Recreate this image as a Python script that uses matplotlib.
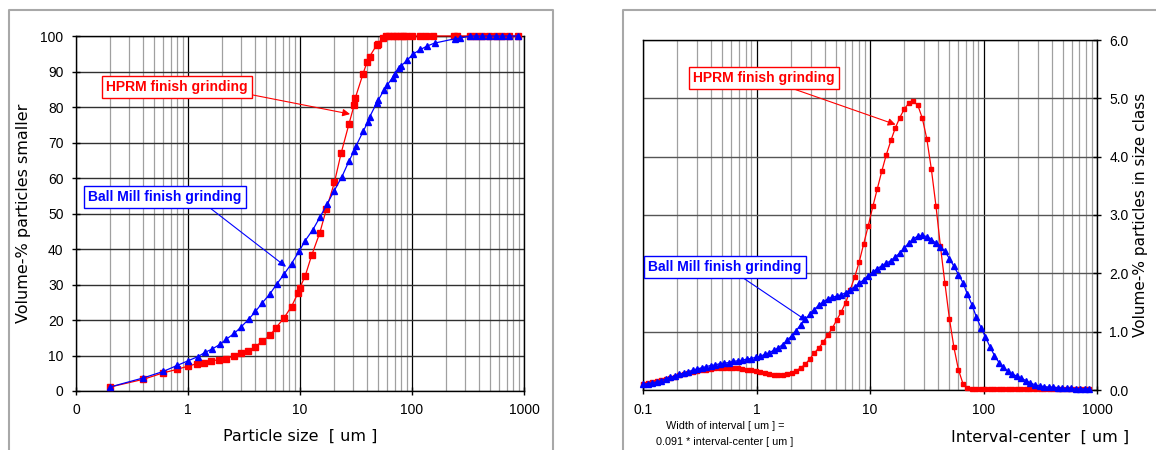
import numpy as np
import matplotlib.pyplot as plt
from matplotlib.ticker import LogLocator, NullFormatter, FixedLocator, FixedFormatter
from matplotlib.lines import Line2D

# -------------------------
# Data: cumulative curves (left chart)
# -------------------------
hprm_cum_x = [0.2, 0.4, 0.6, 0.8, 1.0, 1.2, 1.4, 1.6, 1.9, 2.2, 2.6, 2.95, 3.4, 4.0, 4.6,
              5.4, 6.1, 7.2, 8.4, 9.6, 9.9, 11.1, 12.7, 15.0, 17.2, 20.3, 23.3, 27.3,
              30.4, 31.2, 36.6, 39.8, 41.8, 48.5, 49.6, 55, 58, 62, 68, 72, 78, 83, 89,
              101, 117, 132, 154, 237, 254, 327, 370, 425, 487, 559, 640, 735, 889]
hprm_cum_y = [1.1, 3.3, 5.1, 6.1, 7.0, 7.7, 8.0, 8.5, 8.8, 9.1, 10.0, 10.7, 11.3, 12.5, 14.0,
              15.7, 17.8, 20.6, 23.8, 27.6, 28.9, 32.3, 38.2, 44.5, 51.2, 58.8, 67.0, 75.1,
              80.5, 82.6, 89.4, 92.8, 94.2, 97.5, 97.8, 99.5, 99.9, 100, 100, 100, 100, 100, 100,
              100, 100, 100, 100, 100, 100, 100, 100, 100, 100, 100, 100, 100, 100]

ball_cum_x = [0.2, 0.4, 0.6, 0.8, 1.0, 1.23, 1.42, 1.64, 1.92, 2.2, 2.58, 2.95, 3.5, 4.0, 4.6,
              5.4, 6.2, 7.2, 8.4, 9.8, 11.1, 13.0, 15.1, 17.4, 20.2, 23.7, 27.5, 30.5, 31.6,
              36.6, 40.2, 42.0, 48.5, 50, 56, 60, 67, 70, 76, 80, 90, 102, 119, 137, 159,
              240, 270, 327, 370, 425, 487, 559, 640, 735, 889]
ball_cum_y = [1.1, 3.7, 5.5, 7.2, 8.5, 9.7, 10.9, 11.8, 13.1, 14.6, 16.2, 17.9, 20.3, 22.4, 24.8,
              27.4, 30.1, 32.9, 35.9, 39.3, 42.3, 45.4, 49.0, 52.6, 56.4, 60.4, 64.9, 67.7, 69.0,
              73.1, 75.7, 77.3, 81.2, 81.9, 84.7, 86.1, 88.3, 89.4, 91.0, 91.6, 93.1, 94.9, 96.2,
              97.2, 98.0, 99.2, 99.4, 100, 100, 100, 100, 100, 100, 100, 100]

# -------------------------
# Data: frequency per size class (right chart)
# -------------------------
class_center = [
    0.100, 0.110, 0.120, 0.132, 0.144, 0.158, 0.173, 0.190, 0.208, 0.228,
    0.249, 0.273, 0.299, 0.328, 0.360, 0.394, 0.432, 0.473, 0.518, 0.568,
    0.622, 0.682, 0.747, 0.818, 0.897, 0.983, 1.08, 1.18, 1.29, 1.42,
    1.55, 1.70, 1.86, 2.04, 2.24, 2.45, 2.69, 2.94, 3.22, 3.53,
    3.87, 4.24, 4.65, 5.09, 5.58, 6.12, 6.70, 7.34, 8.04, 8.81,
    9.66, 10.6, 11.6, 12.7, 13.9, 15.3, 16.7, 18.3, 20.1, 22.0,
    24.1, 26.4, 28.9, 31.7, 34.7, 38.1, 41.7, 45.7, 50.1, 54.9,
    60.1, 65.9, 72.2, 79.1, 86.6, 94.9, 104, 114, 125, 137,
    150, 164, 180, 197, 216, 237, 259, 284, 312, 341,
    374, 410, 449, 492, 539, 591, 647, 709, 777, 852]

hprm_freq = [
    0.11, 0.12, 0.13, 0.15, 0.17, 0.19, 0.21, 0.23, 0.25, 0.27,
    0.29, 0.31, 0.32, 0.34, 0.35, 0.36, 0.37, 0.37, 0.38, 0.38,
    0.37, 0.37, 0.36, 0.35, 0.34, 0.33, 0.31, 0.29, 0.27, 0.26,
    0.26, 0.26, 0.27, 0.29, 0.33, 0.38, 0.44, 0.53, 0.63, 0.72,
    0.82, 0.94, 1.06, 1.20, 1.34, 1.50, 1.72, 1.94, 2.20, 2.51,
    2.82, 3.15, 3.45, 3.75, 4.03, 4.28, 4.49, 4.67, 4.82, 4.92,
    4.95, 4.88, 4.66, 4.30, 3.79, 3.16, 2.47, 1.83, 1.22, 0.73,
    0.35, 0.11, 0.03, 0.01, 0.01, 0.01, 0.01, 0.01, 0.01, 0.01,
    0.01, 0.01, 0.01, 0.01, 0.01, 0.01, 0.01, 0.01, 0.01, 0.01,
    0.01, 0.01, 0.01, 0.01, 0.01, 0.01, 0.01, 0.01, 0.01, 0.01]

ball_freq = [
    0.10, 0.11, 0.12, 0.14, 0.16, 0.19, 0.22, 0.24, 0.27, 0.29,
    0.31, 0.34, 0.36, 0.38, 0.40, 0.42, 0.43, 0.45, 0.46, 0.47,
    0.49, 0.50, 0.51, 0.53, 0.54, 0.56, 0.58, 0.61, 0.64, 0.68,
    0.72, 0.78, 0.85, 0.93, 1.02, 1.12, 1.21, 1.30, 1.38, 1.45,
    1.51, 1.56, 1.59, 1.61, 1.63, 1.67, 1.72, 1.77, 1.83, 1.89,
    1.96, 2.02, 2.08, 2.13, 2.17, 2.22, 2.28, 2.35, 2.44, 2.52,
    2.59, 2.64, 2.65, 2.63, 2.58, 2.52, 2.46, 2.38, 2.25, 2.12,
    1.98, 1.84, 1.64, 1.46, 1.25, 1.07, 0.91, 0.74, 0.59, 0.47,
    0.39, 0.32, 0.27, 0.24, 0.20, 0.16, 0.12, 0.09, 0.07, 0.06,
    0.05, 0.05, 0.04, 0.03, 0.03, 0.03, 0.02, 0.02, 0.02, 0.02]

x_ticks = [0.1, 1, 10, 100, 1000]
left_xlabels = ['0', '1', '10', '100', '1000']
right_xlabels = ['0.1', '1', '10', '100', '1000']

# -------------------------
# Figure / layout (pixel based)
# -------------------------
W, H = 1156, 450
fig = plt.figure(figsize=(W / 100, H / 100), dpi=100)

def px_box(x0, y0, x1, y1):
    return [x0 / W, 1 - y1 / H, (x1 - x0) / W, (y1 - y0) / H]

def fig_line(xs, ys):
    fig.add_artist(Line2D([x / W for x in xs], [1 - y / H for y in ys],
                          transform=fig.transFigure, color='#a8a8a8', lw=1.5))

# panel frames
fig_line([9, 9, 553, 553], [450, 10, 10, 450])
fig_line([623, 623, 1156], [450, 10, 10])

ax1 = fig.add_axes(px_box(76, 36, 524, 391))
ax2 = fig.add_axes(px_box(643, 40, 1097, 390))

tick_font = 'Liberation Sans'
label_font = 'DejaVu Sans'

def style_log_axis(ax, hcolor, xlabels):
    ax.set_xscale('log')
    ax.set_xlim(0.1, 1000)
    ax.xaxis.set_major_locator(FixedLocator(x_ticks))
    ax.xaxis.set_major_formatter(FixedFormatter(xlabels))
    ax.xaxis.set_minor_locator(LogLocator(base=10, subs=np.arange(2, 10)))
    ax.xaxis.set_minor_formatter(NullFormatter())
    ax.grid(which='major', axis='x', color='black', lw=0.9)
    ax.grid(which='minor', axis='x', color='#a0a0a0', lw=0.9)
    ax.grid(which='major', axis='y', color=hcolor, lw=1.0)
    ax.set_axisbelow(True)
    ax.tick_params(which='minor', length=0)
    ax.tick_params(which='major', direction='inout', length=6, width=1,
                   labelsize=10, pad=6)
    for lab in ax.get_xticklabels() + ax.get_yticklabels():
        lab.set_fontfamily(tick_font)
    for s in ax.spines.values():
        s.set_color('black')
        s.set_linewidth(1)

# -------------------------
# Left: cumulative distribution
# -------------------------
ax1.plot(hprm_cum_x, hprm_cum_y, '-s', color='#ff0000', ms=3.8, lw=0.9,
         zorder=3, clip_on=False)
ax1.plot(ball_cum_x, ball_cum_y, '-^', color='#0000ff', ms=4.5, lw=0.9,
         zorder=4, clip_on=False)
ax1.set_ylim(0, 100)
ax1.set_yticks(np.arange(0, 101, 10))
style_log_axis(ax1, '#303030', left_xlabels)
ax1.set_xlabel('Particle size  [ um ]', fontsize=11.5, family=label_font, labelpad=8)
ax1.set_ylabel('Volume-% particles smaller', fontsize=11.5, family=label_font, labelpad=7)

# -------------------------
# Right: frequency distribution
# -------------------------
ax2.plot(class_center, hprm_freq, '-s', color='#ff0000', ms=3.2, lw=0.9,
         zorder=3, clip_on=False)
ax2.plot(class_center, ball_freq, '-^', color='#0000ff', ms=3.8, lw=0.9,
         zorder=4, clip_on=False)
ax2.set_ylim(0, 6)
ax2.set_yticks(np.arange(0, 6.1, 1))
ax2.set_yticklabels(['%.1f' % v for v in np.arange(0, 6.1, 1)])
ax2.yaxis.tick_right()
style_log_axis(ax2, '#555555', right_xlabels)
ax2.yaxis.set_label_position('right')
ax2.set_ylabel('Volume-% particles in size class', fontsize=11,
               family=label_font, labelpad=3)

fig.text(1040 / W, 1 - 437 / H, 'Interval-center  [ um ]', fontsize=11.5,
         family=label_font, ha='center', va='center')
fig.text(725 / W, 1 - 434 / H,
         'Width of interval [ um ] =\n0.091 * interval-center [ um ]',
         fontsize=7.8, family=tick_font, ha='center', va='center',
         linespacing=1.7)

# -------------------------
# Callout boxes
# -------------------------
def callout(ax, text, tip, center, color, relx):
    ax.annotate(text, xy=tip, xycoords='data',
                xytext=(center[0], H - center[1]), textcoords='figure pixels',
                ha='center', va='center', fontsize=10, fontweight='bold',
                family='Liberation Sans', color=color,
                bbox=dict(boxstyle='square,pad=0.3', fc='white', ec=color, lw=1),
                arrowprops=dict(arrowstyle='-|>', color=color, lw=0.8,
                                mutation_scale=11, relpos=(relx, 0.0),
                                shrinkA=0, shrinkB=0),
                zorder=6)

callout(ax1, 'HPRM finish grinding', (28, 78), (177, 87), '#ff0000', 1.0)
callout(ax1, 'Ball Mill finish grinding', (7.5, 35), (165, 197), '#0000ff', 0.76)
callout(ax2, 'HPRM finish grinding', (16.8, 4.55), (764, 78), '#ff0000', 0.63)
callout(ax2, 'Ball Mill finish grinding', (2.8, 1.18), (725, 267), '#0000ff', 0.58)

plt.savefig('out.png', dpi=100)
